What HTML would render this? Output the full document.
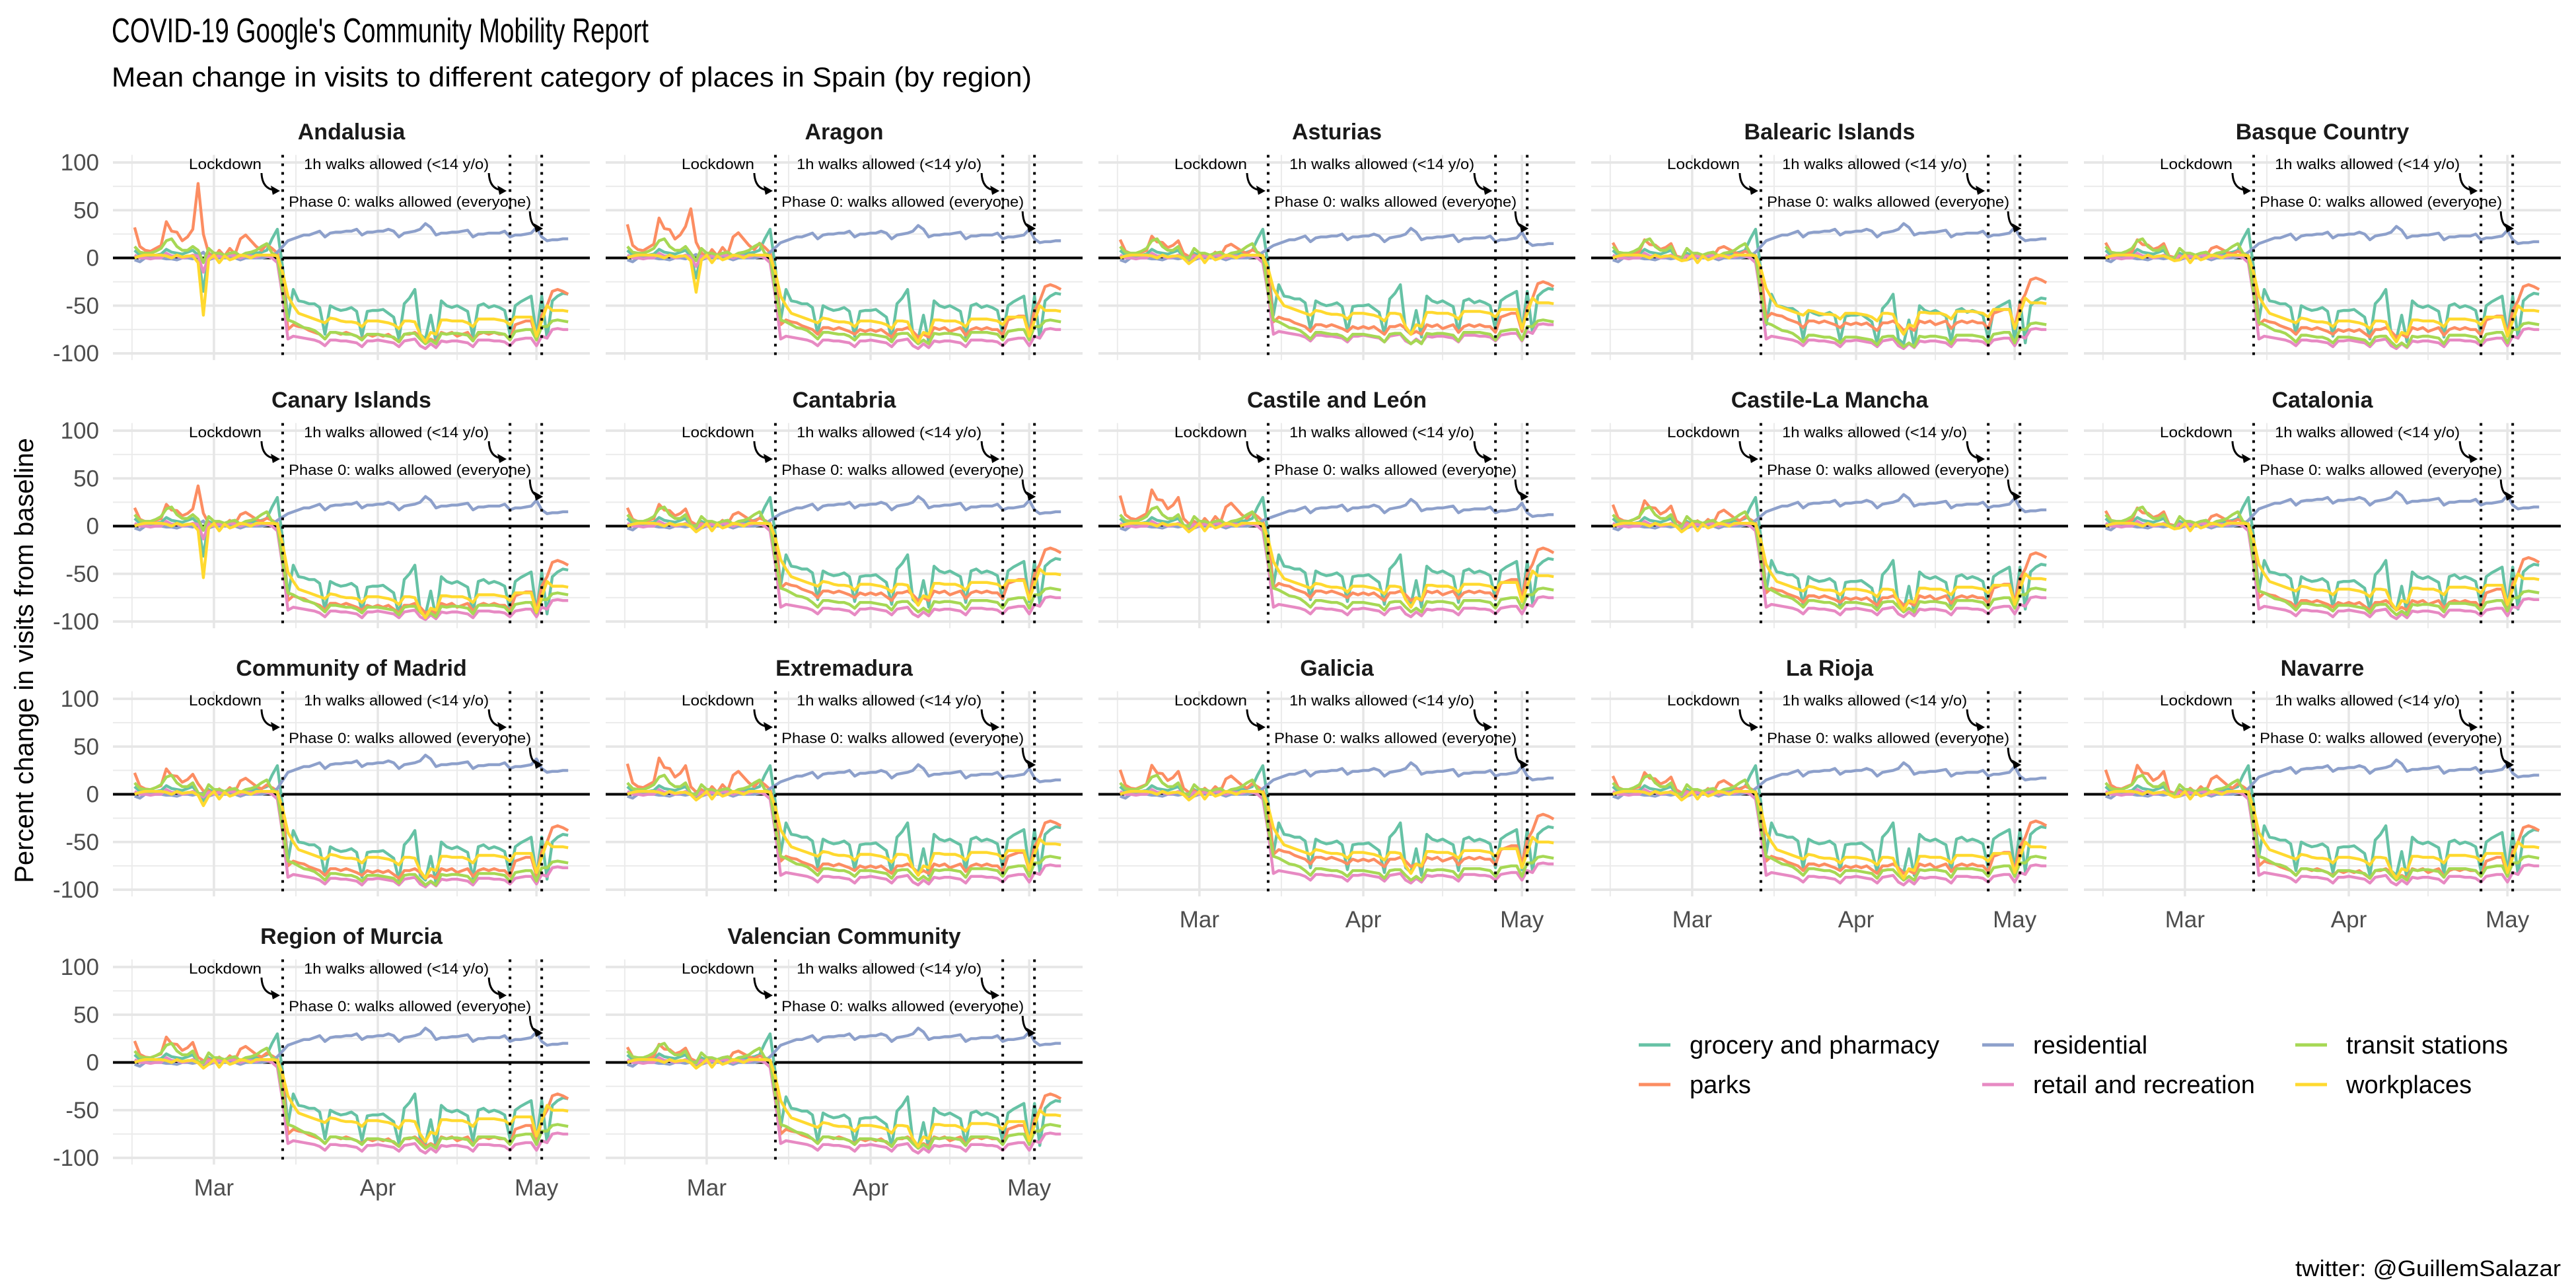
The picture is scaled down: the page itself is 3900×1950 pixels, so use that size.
<!DOCTYPE html>
<html>
<head>
<meta charset="utf-8">
<style>
html,body{margin:0;padding:0;background:#fff;}
svg{display:block;font-family:"Liberation Sans",Arial,sans-serif;}
</style>
</head>
<body>
<svg id="chart" width="3900" height="1950" viewBox="0 0 3900 1950" xmlns="http://www.w3.org/2000/svg">
<rect x="0" y="0" width="3900" height="1950" fill="#ffffff"/>
<text x="169" y="64" font-size="52" fill="#000" textLength="813" lengthAdjust="spacingAndGlyphs">COVID-19 Google's Community Mobility Report</text>
<text x="169" y="131" font-size="42" fill="#000" textLength="1393" lengthAdjust="spacingAndGlyphs">Mean change in visits to different category of places in Spain (by region)</text>
<text x="0" y="0" font-size="40" fill="#000" text-anchor="middle" transform="translate(50,1000) rotate(-90)">Percent change in visits from baseline</text>
<g id="panels"></g>
<g id="legend"></g>
<text x="3877" y="1932" font-size="34" fill="#000" text-anchor="end" textLength="402" lengthAdjust="spacingAndGlyphs">twitter: @GuillemSalazar</text>
</svg>
<script>
// ---- data (daily, Feb 15 .. May 7 2020) ----
const regions = ["Andalusia","Aragon","Asturias","Balearic Islands","Basque Country","Canary Islands","Cantabria","Castile and León","Castile-La Mancha","Catalonia","Community of Madrid","Extremadura","Galicia","La Rioja","Navarre","Region of Murcia","Valencian Community"];
const categories = ["grocery and pharmacy","parks","residential","retail and recreation","transit stations","workplaces"];
const monthLabels = ["Mar","Apr","May"];
const monthDayIndex = [15,46,76];
const yTicks = [-100,-50,0,50,100];
const eventDayIndex = [28,71,77];

const grocery = [8,3,2,2,3,4,9,6,5,4,6,8,3,-35,5,2,3,3,5,6,2,4,4,5,6,8,20,30,
 -10,-65,
 -33,-45,-46,-48,-48,-52,-80,
 -50,-53,-55,-54,-52,-56,-82,
 -56,-55,-55,-54,-58,-62,-85,
 -48,-42,-33,-80,-85,-60,-88,
 -45,-50,-52,-50,-53,-56,-83,
 -50,-48,-52,-50,-52,-55,-80,
 -50,-46,-43,-40,-82,-40,-84,
 -45,-40,-37,-38];
const parks = [32,12,8,7,10,13,38,28,27,18,22,30,78,25,5,0,8,2,10,4,20,24,18,12,8,14,10,5,
 -20,-75,
 -70,-72,-73,-76,-78,-80,-85,
 -78,-78,-80,-78,-80,-82,-85,
 -80,-82,-80,-82,-80,-84,-88,
 -80,-80,-78,-82,-88,-85,-88,
 -78,-80,-78,-82,-80,-78,-86,
 -80,-78,-80,-78,-80,-80,-86,
 -70,-68,-66,-66,-85,-60,-50,
 -35,-33,-35,-38];
const residential = [-2,-4,0,0,0,0,-1,-1,-2,0,0,-1,2,6,-2,0,0,0,0,0,-2,0,0,0,0,1,2,6,
 12,18,
 20,22,24,24,26,28,22,
 26,27,27,28,28,30,24,
 27,27,28,28,30,28,22,
 26,27,28,30,36,32,24,
 26,26,27,27,28,29,22,
 25,25,26,26,26,28,22,
 24,24,25,26,32,22,18,
 19,19,20,20];
const retail = [3,0,0,-1,0,0,5,2,2,0,1,3,2,-15,2,0,2,1,3,2,0,2,2,1,3,2,0,-5,
 -40,-85,
 -82,-83,-84,-85,-86,-88,-92,
 -86,-86,-87,-87,-88,-89,-93,
 -87,-87,-86,-87,-88,-89,-93,
 -87,-86,-85,-92,-95,-90,-94,
 -87,-88,-87,-87,-88,-89,-93,
 -86,-86,-86,-87,-87,-88,-92,
 -86,-85,-84,-84,-92,-82,-84,
 -75,-74,-75,-75];
const transit = [12,6,5,5,7,10,18,20,12,8,8,12,8,-5,10,5,5,3,5,6,2,5,6,8,12,15,5,2,
 -35,-65,
 -67,-70,-73,-74,-76,-80,-85,
 -78,-78,-79,-80,-80,-82,-86,
 -80,-80,-80,-81,-82,-83,-88,
 -80,-79,-79,-85,-90,-86,-90,
 -79,-80,-79,-79,-80,-81,-87,
 -78,-78,-78,-78,-79,-80,-86,
 -77,-76,-75,-75,-86,-72,-72,
 -66,-65,-66,-67];
const workplaces = [0,2,3,3,3,3,2,0,3,1,2,2,-5,-60,-2,3,-5,2,-2,0,3,2,0,3,3,3,3,2,
 -15,-40,
 -50,-58,-60,-62,-64,-66,-68,
 -63,-64,-66,-67,-67,-68,-72,
 -66,-66,-66,-67,-68,-70,-74,
 -66,-66,-67,-80,-88,-78,-80,
 -65,-65,-66,-66,-66,-68,-72,
 -64,-64,-64,-64,-65,-66,-70,
 -62,-62,-62,-62,-82,-66,-50,
 -55,-55,-55,-56];

// per-region adjustments
const groceryShift     = [0,0,5,-5,0,-8,3,3,-3,-3,-5,3,3,3,0,0,-3];
const parksShift       = [0,5,8,12,5,-3,10,10,5,0,0,5,12,5,0,0,0];
const residentialShift = [0,-2,-5,0,-3,-5,-5,-8,-3,0,5,-5,-3,-3,0,0,0];
const retailShift      = [0,0,5,0,0,-3,0,0,0,-2,-2,0,2,0,0,0,0];
const transitShift     = [0,0,0,-3,-3,-5,0,0,0,-3,-5,0,0,0,0,0,0];
const workplacesShift  = [0,0,8,8,0,-8,5,3,0,0,0,3,5,0,0,5,0];
const parksPreScale    = [1,1.1,0.6,0.5,0.5,0.6,0.6,1,0.7,0.5,0.7,1,0.8,0.6,0.8,0.7,0.5];
// strength of the late-February holiday dip (Andalusia Day) in each region
const holidayDipScale  = [1,0.6,0.1,0.05,0.05,0.9,0.1,0.1,0.1,0.05,0.2,0.1,0.1,0.1,0.05,0.1,0.1];

const colors = ["#66c2a5","#fc8d62","#8da0cb","#e78ac3","#a6d854","#ffd92f"];
const baseSeries = [grocery,parks,residential,retail,transit,workplaces];
const shiftSeries = [groceryShift,parksShift,residentialShift,retailShift,transitShift,workplacesShift];
const seriesKeys = ["grocery","parks","residential","retail","transit","workplaces"];

// ---- layout ----
const NS = "http://www.w3.org/2000/svg";
const colLeft = [171,917,1663,2409,3155];
const rowTop100 = [246,652,1058,1464];
const PW = 722;
const PXU = 1.445;
function xScale(col, i){ return colLeft[col] + (i + 4.1) / 90.2 * PW; }
function yScale(row, v){ return rowTop100[row] + (100 - v) * PXU; }
function mk(tag, attrs, parent){
  const e = document.createElementNS(NS, tag);
  for (const k in attrs) e.setAttribute(k, attrs[k]);
  parent.appendChild(e);
  return e;
}
const panelsG = document.getElementById("panels");

regions.forEach((name, r) => {
  const row = Math.floor(r / 5), col = r % 5;
  const g = mk("g", {}, panelsG);
  
  
  const top = yScale(row, 108), bot = yScale(row, -107);
  const L = colLeft[col], R = colLeft[col] + PW;
  [-75,-25,25,75].forEach(v => {
    const l = mk("line", {x1:L, x2:R, y1:yScale(row,v), y2:yScale(row,v), stroke:"#ebebeb", "stroke-width":2}, g);
    
    
  });
  [-0.5,30.5,61].forEach(d => {
    const l = mk("line", {x1:xScale(col,d), x2:xScale(col,d), y1:top, y2:bot, stroke:"#ebebeb", "stroke-width":2}, g);
    
    
  });
  yTicks.forEach(v => {
    const l = mk("line", {x1:L, x2:R, y1:yScale(row,v), y2:yScale(row,v), stroke:"#e6e6e6", "stroke-width":3.8}, g);
    
    
  });
  monthDayIndex.forEach(d => {
    const l = mk("line", {x1:xScale(col,d), x2:xScale(col,d), y1:top, y2:bot, stroke:"#e6e6e6", "stroke-width":3.5}, g);
    
    
  });
  const st = mk("text", {x:L + PW/2, y:rowTop100[row] - 35, "font-size":34, "font-weight":"bold", "text-anchor":"middle", fill:"#1a1a1a"}, g);
  st.textContent = name;
  
  
  if (col === 0) {
    yTicks.forEach(v => {
      const t = mk("text", {x:150, y:yScale(row,v) + 12, "font-size":35, "text-anchor":"end", fill:"#4d4d4d"}, g);
      t.textContent = String(v);
      
      
    });
  }
  const bottomPanel = (row === 3) || (row === 2 && col >= 2);
  if (bottomPanel) {
    monthDayIndex.forEach((d, k) => {
      const t = mk("text", {x:xScale(col,d), y:rowTop100[row] + 346, "font-size":35, "text-anchor":"middle", fill:"#4d4d4d"}, g);
      t.textContent = monthLabels[k];
      
      
    });
  }
  const z = mk("line", {x1:L, x2:R, y1:yScale(row,0), y2:yScale(row,0), stroke:"#000", "stroke-width":4}, g);
  
  
  baseSeries.forEach((base, s) => {
    const shift = shiftSeries[s][r];
    const pts = base.map((v, i) => {
      let val = v;
      if (i === 12 || i === 13) val = v * holidayDipScale[r];
      if (s === 1 && i < 28) val = val * parksPreScale[r];
      if (i >= 29) val = val + shift; else if (i === 28) val = val + shift / 2;
      return xScale(col, i).toFixed(1) + "," + yScale(row, val).toFixed(1);
    });
    const p = mk("polyline", {points:pts.join(" "), fill:"none", stroke:colors[s], "stroke-width":4.4, "stroke-linejoin":"round"}, g);
    
    
  });
  eventDayIndex.forEach(d => {
    const l = mk("line", {x1:xScale(col,d), x2:xScale(col,d), y1:top, y2:bot, stroke:"#000", "stroke-width":4, "stroke-dasharray":"4 9"}, g);
    
    
  });
  const xl = xScale(col, eventDayIndex[0]), xw = xScale(col, eventDayIndex[1]), xp = xScale(col, eventDayIndex[2]);
  const ya = yScale(row, 98.6) + 8, yp = yScale(row, 59) + 8;
  const a1 = mk("text", {x:xl - 32, y:ya, "font-size":22, "text-anchor":"end", fill:"#000", textLength:110, lengthAdjust:"spacingAndGlyphs"}, g);
  a1.textContent = "Lockdown";
  
  
  const a2 = mk("text", {x:xw - 32, y:ya, "font-size":22, "text-anchor":"end", fill:"#000", textLength:280, lengthAdjust:"spacingAndGlyphs"}, g);
  a2.textContent = "1h walks allowed (<14 y/o)";
  
  
  const a3 = mk("text", {x:xp - 16, y:yp, "font-size":22, "text-anchor":"end", fill:"#000", textLength:367, lengthAdjust:"spacingAndGlyphs"}, g);
  a3.textContent = "Phase 0: walks allowed (everyone)";
  
  
  const y0 = rowTop100[row];
  [[xl - 32, y0 + 16, xl - 6, y0 + 45],[xw - 32, y0 + 16, xw - 7, y0 + 45],[xp - 18, y0 + 74, xp, y0 + 102]].forEach(a => {
    const [x1,y1,x2,y2] = a;
    const ar = mk("path", {d:`M${x1},${y1} Q${x1+1},${y2-4} ${x2-4},${y2-3}`, fill:"none", stroke:"#000", "stroke-width":3}, g);
    
    
    const hd = mk("path", {d:`M${x2+2},${y2-2} L${x2-12},${y2-10} L${x2-9},${y2+4} Z`, fill:"#000"}, g);
    
    
  });
});

// ---- legend ----
const legendG = document.getElementById("legend");
const legKeyX = [2481,2481,3001,3001,3475,3475];
const legRowY = [1582,1642,1582,1642,1582,1642];
categories.forEach((c, s) => {
  const ent = mk("g", {}, legendG);
  
  
  const k = mk("line", {x1:legKeyX[s], x2:legKeyX[s] + 48, y1:legRowY[s], y2:legRowY[s], stroke:colors[s], "stroke-width":5}, ent);
  
  
  const t = mk("text", {x:legKeyX[s] + 77, y:legRowY[s] + 13, "font-size":38, fill:"#000"}, ent);
  t.textContent = c;
  
  
});
</script>
</body>
</html>
